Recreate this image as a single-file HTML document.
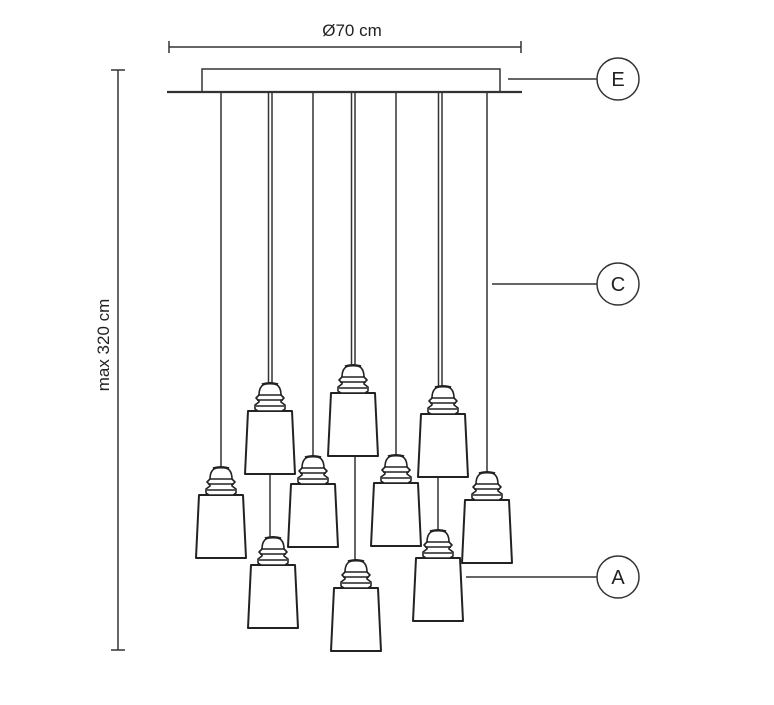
<!DOCTYPE html>
<html><head><meta charset="utf-8"><style>
html,body{margin:0;padding:0;background:#fff;}
svg{display:block}
</style></head><body>
<svg width="774" height="705" viewBox="0 0 774 705" xmlns="http://www.w3.org/2000/svg">
<defs>
<g id="lamp" fill="#fff" stroke="#222" stroke-width="1.6" stroke-linejoin="round">
  <path d="M-22,28 L22,28 L25,91 L-25,91 Z" stroke-width="2"/>
  <path d="M-11,12 Q-11,0 0,0 Q11,0 11,12 L14,15 L11,18 L11,19 L15,22 L15,26 L12,28 L-12,28 L-15,26 L-15,22 L-11,19 L-11,18 L-14,15 Z"/>
  <line x1="-12" y1="12" x2="12" y2="12"/>
  <line x1="-13" y1="17" x2="13" y2="17"/>
  <line x1="-14" y1="23" x2="14" y2="23"/>
  <path d="M-8,1.5 Q0,-1 8,1.5" stroke-width="2.5"/>
</g>
</defs>
<g stroke="#333" stroke-width="1.5" fill="none">
  <line x1="169" y1="47" x2="521" y2="47"/>
  <line x1="169" y1="41" x2="169" y2="53"/>
  <line x1="521" y1="41" x2="521" y2="53"/>
  <line x1="118" y1="70" x2="118" y2="650"/>
  <line x1="111" y1="70" x2="125" y2="70"/>
  <line x1="111" y1="650" x2="125" y2="650"/>
  <rect x="202" y="69" width="298" height="23"/>
  <line x1="167" y1="92" x2="522" y2="92" stroke-width="2.2"/>
  <line x1="508" y1="79" x2="597" y2="79"/>
  <line x1="492" y1="284" x2="597" y2="284"/>
  <line x1="466" y1="577" x2="597" y2="577"/>
  <circle cx="618" cy="79" r="21"/>
  <circle cx="618" cy="284" r="21"/>
  <circle cx="618" cy="577" r="21"/>
  <line x1="221" y1="92" x2="221" y2="468"/>
  <line x1="268.5" y1="92" x2="268.5" y2="384"/><line x1="272" y1="92" x2="272" y2="384"/>
  <line x1="313" y1="92" x2="313" y2="457"/>
  <line x1="351.5" y1="92" x2="351.5" y2="366"/><line x1="355" y1="92" x2="355" y2="366"/>
  <line x1="396" y1="92" x2="396" y2="456"/>
  <line x1="438.5" y1="92" x2="438.5" y2="387"/><line x1="442" y1="92" x2="442" y2="387"/>
  <line x1="487" y1="92" x2="487" y2="473"/>
  <line x1="270" y1="475" x2="270" y2="538"/>
  <line x1="355" y1="455" x2="355" y2="561"/>
  <line x1="438" y1="476" x2="438" y2="531"/>
</g>
<use href="#lamp" x="221" y="467"/>
<use href="#lamp" x="270" y="383"/>
<use href="#lamp" x="313" y="456"/>
<use href="#lamp" x="273" y="537"/>
<use href="#lamp" x="353" y="365"/>
<use href="#lamp" x="356" y="560"/>
<use href="#lamp" x="396" y="455"/>
<use href="#lamp" x="443" y="386"/>
<use href="#lamp" x="438" y="530"/>
<use href="#lamp" x="487" y="472"/>
<g font-family="Liberation Sans, sans-serif" fill="#222">
  <text x="352" y="36" font-size="17" text-anchor="middle">Ø70 cm</text>
  <text transform="translate(109,345) rotate(-90)" font-size="17" text-anchor="middle">max 320 cm</text>
  <text x="618" y="86" font-size="20" text-anchor="middle">E</text>
  <text x="618" y="291" font-size="20" text-anchor="middle">C</text>
  <text x="618" y="584" font-size="20" text-anchor="middle">A</text>
</g>
</svg>
</body></html>
